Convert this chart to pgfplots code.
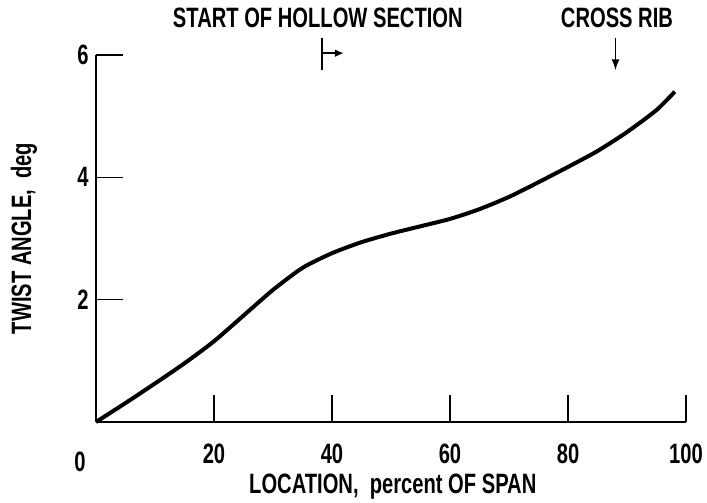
\documentclass[border=0pt]{standalone}
\usepackage{pgfplots}
\pgfplotsset{compat=1.18}
\usetikzlibrary{arrows.meta}
\usepackage{fontspec}
\setmainfont{Liberation Sans}[FakeStretch=0.72]
\begin{document}
\begin{tikzpicture}[font=\fontsize{28bp}{30bp}\selectfont\bfseries]
\begin{axis}[
  scale only axis, width=590bp, height=367bp,
  xmin=0, xmax=100, ymin=0, ymax=6,
  axis x line*=bottom, axis y line*=left,
  axis line style={line width=1.3bp, -},
  xtick={20,40,60,80,100}, ytick={2,4,6},
  tick align=inside, major tick length=27bp,
  tick style={line width=1.2bp, black},
  /pgf/number format/assume math mode=true,
  ticklabel style={font=\fontsize{28bp}{30bp}\selectfont\bfseries},
  xticklabel style={yshift=-18bp},
  yticklabel style={xshift=-4bp},
  xlabel={LOCATION,\ \ percent OF SPAN},
  ylabel={TWIST ANGLE,\ \ deg},
  xlabel style={at={(axis description cs:0.503,-0.177)}, anchor=center},
  ylabel style={at={(axis description cs:-0.122,0.5)}, anchor=center},
  clip=false,
]
\addplot[black, line width=4bp, smooth, tension=0.4] coordinates {
(0,0) (5,0.31) (10,0.63) (15,0.96) (20,1.32) (25,1.74) (30,2.16)
(35,2.52) (40,2.76) (45,2.94) (50,3.08) (55,3.20) (60,3.32)
(65,3.48) (70,3.68) (75,3.92) (80,4.17) (85,4.43) (90,4.74)
(95,5.10) (98.1,5.40)
};
\coordinate (O) at (rel axis cs:0,0);
\node[inner sep=0, anchor=north] at ([xshift=-16bp,yshift=-30bp]axis cs:0,0) {0};
\node[inner sep=0] at (axis cs:37.6,6.60) {START OF HOLLOW SECTION};
\node[inner sep=0] at (axis cs:88.3,6.60) {CROSS RIB};
\draw[line width=1.5bp] (axis cs:38.3,6.27) -- (axis cs:38.3,5.75);
\draw[line width=2bp, -{Latex[length=9bp,width=8bp]}] (axis cs:38.3,6.03) -- (axis cs:42.0,6.03);
\draw[line width=1.6bp, -{Latex[length=11bp,width=8bp]}] (axis cs:88.05,6.27) -- (axis cs:88.05,5.75);
\end{axis}
\path (O) ++(-96bp,-76bp) rectangle ++(707bp,498bp);
\end{tikzpicture}
\end{document}
